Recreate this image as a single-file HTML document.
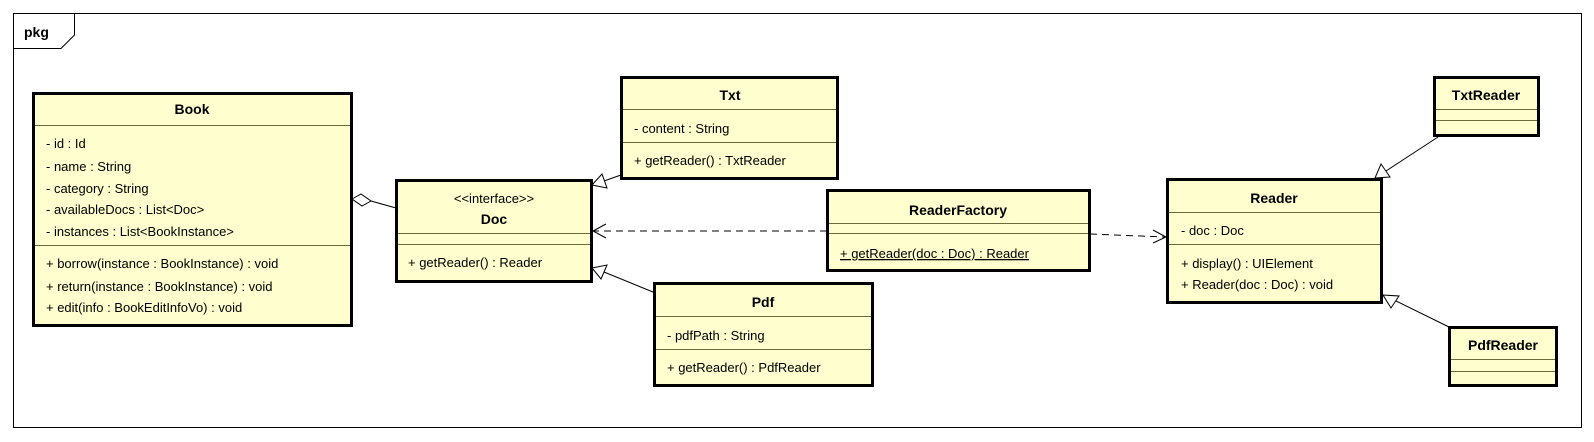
<!DOCTYPE html>
<html><head><meta charset="utf-8"><style>
html,body{margin:0;padding:0;background:#fff;}
svg{display:block;}
text{font-family:"Liberation Sans",Arial,sans-serif;font-size:13px;fill:#000;}
.t{font-weight:bold;font-size:14px;text-anchor:middle;}
.b{fill:#fefece;stroke:#000;stroke-width:3;}
.d{stroke:#6b6b3a;stroke-width:1;}
.l{stroke:#000;stroke-width:1;fill:none;}
</style></head><body>
<svg width="1594" height="442" viewBox="0 0 1594 442" xmlns="http://www.w3.org/2000/svg">
<rect x="13.5" y="13.5" width="1568" height="414" fill="#fff" stroke="#000" stroke-width="1"/>
<path d="M13.5 48.5 H61 L74.5 35 V13.5" fill="none" stroke="#000" stroke-width="1"/>
<text x="24" y="37" style="font-weight:bold;font-size:14px">pkg</text>

<path class="l" d="M396 208 L371 201"/>
<polygon points="352,199 361,194 371,201 362,206" fill="#fff" stroke="#000"/>
<path class="l" d="M621 175 L604 181"/>
<polygon points="592,185 602,174 607,188" fill="#fff" stroke="#000"/>
<path class="l" d="M653 292 L604 272"/>
<polygon points="592,268 607,265 601,279" fill="#fff" stroke="#000"/>
<path class="l" d="M827 231 L594 231" stroke-dasharray="7,5"/>
<path class="l" d="M606 224 L593 231 L606 238"/>
<path class="l" d="M1090 234 L1165 237" stroke-dasharray="7,5"/>
<path class="l" d="M1153 230 L1166 237 L1153 243"/>
<path class="l" d="M1438 137 L1386 171"/>
<polygon points="1375,178 1381,164 1390,177" fill="#fff" stroke="#000"/>
<path class="l" d="M1449 327 L1394 300"/>
<polygon points="1383,295 1399,296 1391,308" fill="#fff" stroke="#000"/>

<rect class="b" x="33.5" y="93.5" width="318" height="232"/>
<line class="d" x1="35" y1="125.5" x2="350" y2="125.5"/>
<line class="d" x1="35" y1="245.5" x2="350" y2="245.5"/>
<text class="t" x="192" y="114">Book</text>
<text x="46" y="148">- id : Id</text>
<text x="46" y="171">- name : String</text>
<text x="46" y="193">- category : String</text>
<text x="46" y="214">- availableDocs : List&lt;Doc&gt;</text>
<text x="46" y="236">- instances : List&lt;BookInstance&gt;</text>
<text x="46" y="268">+ borrow(instance : BookInstance) : void</text>
<text x="46" y="291">+ return(instance : BookInstance) : void</text>
<text x="46" y="312">+ edit(info : BookEditInfoVo) : void</text>

<rect class="b" x="396.5" y="180.5" width="195" height="101"/>
<line class="d" x1="398" y1="233.5" x2="590" y2="233.5"/>
<line class="d" x1="398" y1="244.5" x2="590" y2="244.5"/>
<text x="494" y="203" text-anchor="middle">&lt;&lt;interface&gt;&gt;</text>
<text class="t" x="494" y="224">Doc</text>
<text x="408" y="267">+ getReader() : Reader</text>

<rect class="b" x="621.5" y="77.5" width="216" height="101"/>
<line class="d" x1="623" y1="109.5" x2="836" y2="109.5"/>
<line class="d" x1="623" y1="142.5" x2="836" y2="142.5"/>
<text class="t" x="730" y="100">Txt</text>
<text x="634" y="133">- content : String</text>
<text x="634" y="165">+ getReader() : TxtReader</text>

<rect class="b" x="654.5" y="283.5" width="218" height="102"/>
<line class="d" x1="656" y1="316.5" x2="871" y2="316.5"/>
<line class="d" x1="656" y1="349.5" x2="871" y2="349.5"/>
<text class="t" x="763" y="307">Pdf</text>
<text x="667" y="340">- pdfPath : String</text>
<text x="667" y="372">+ getReader() : PdfReader</text>

<rect class="b" x="827.5" y="190.5" width="262" height="80"/>
<line class="d" x1="829" y1="223.5" x2="1088" y2="223.5"/>
<line class="d" x1="829" y1="233.5" x2="1088" y2="233.5"/>
<text class="t" x="958" y="215">ReaderFactory</text>
<text x="840" y="258" text-decoration="underline">+ getReader(doc : Doc) : Reader</text>

<rect class="b" x="1167.5" y="179.5" width="214" height="123"/>
<line class="d" x1="1169" y1="212.5" x2="1380" y2="212.5"/>
<line class="d" x1="1169" y1="244.5" x2="1380" y2="244.5"/>
<text class="t" x="1274" y="203">Reader</text>
<text x="1181" y="235">- doc : Doc</text>
<text x="1181" y="268">+ display() : UIElement</text>
<text x="1181" y="289">+ Reader(doc : Doc) : void</text>

<rect class="b" x="1434.5" y="77.5" width="104" height="58"/>
<line class="d" x1="1436" y1="109.5" x2="1537" y2="109.5"/>
<line class="d" x1="1436" y1="120.5" x2="1537" y2="120.5"/>
<text class="t" x="1486" y="100">TxtReader</text>

<rect class="b" x="1449.5" y="327.5" width="107" height="58"/>
<line class="d" x1="1451" y1="359.5" x2="1555" y2="359.5"/>
<line class="d" x1="1451" y1="371.5" x2="1555" y2="371.5"/>
<text class="t" x="1503" y="350">PdfReader</text>
</svg>
</body></html>
